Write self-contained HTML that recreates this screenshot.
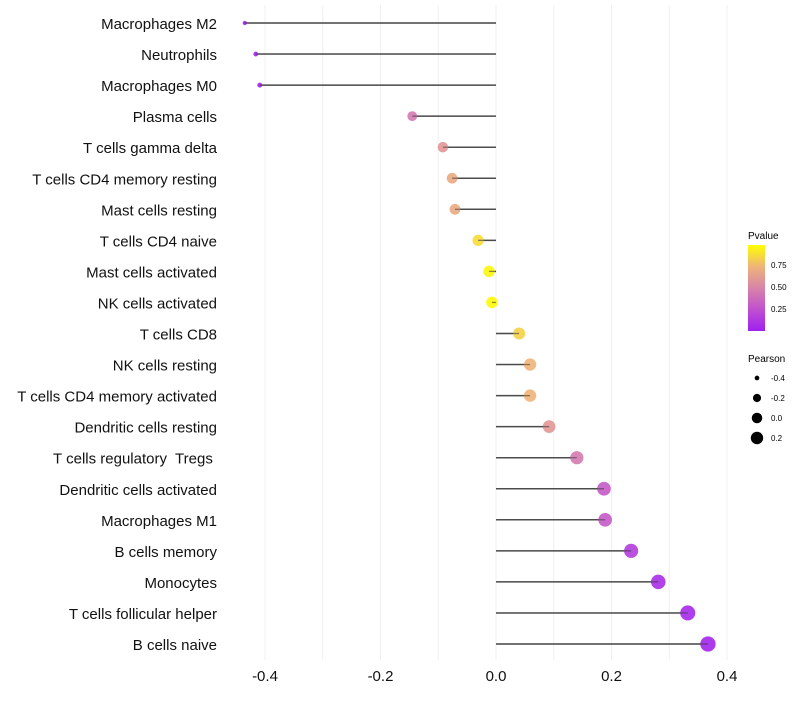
<!DOCTYPE html>
<html><head><meta charset="utf-8"><style>
body{margin:0;background:#fff;font-family:"Liberation Sans",sans-serif}
text{white-space:pre}
</style></head><body>
<svg id="chart" width="800" height="700" xmlns="http://www.w3.org/2000/svg" font-family="Liberation Sans, sans-serif">
<defs><linearGradient id="pg" x1="0" y1="1" x2="0" y2="0">
<stop offset="0" stop-color="#a020f0"/><stop offset="0.25" stop-color="#c050d0"/><stop offset="0.5" stop-color="#d884a8"/><stop offset="0.75" stop-color="#eeb478"/><stop offset="1" stop-color="#ffff00"/></linearGradient></defs>
<g id="grid"></g>
<g id="marks"></g>
<g id="ylabels"></g>
<g id="xlabels"></g>
<g>
<text x="748" y="239" font-size="10">Pvalue</text>
<rect x="748" y="245" width="17" height="86" fill="url(#pg)"/>
<text x="771" y="268" font-size="8">0.75</text>
<text x="771" y="290" font-size="8">0.50</text>
<text x="771" y="312" font-size="8">0.25</text>
</g>
<g id="sizeleg">
<text x="748" y="362" font-size="10">Pearson</text>
</g>
</svg>
<script>
const categories=["Macrophages M2","Neutrophils","Macrophages M0","Plasma cells","T cells gamma delta","T cells CD4 memory resting","Mast cells resting","T cells CD4 naive","Mast cells activated","NK cells activated","T cells CD8","NK cells resting","T cells CD4 memory activated","Dendritic cells resting","T cells regulatory  Tregs ","Dendritic cells activated","Macrophages M1","B cells memory","Monocytes","T cells follicular helper","B cells naive"];
const pearson=[-0.435,-0.416,-0.409,-0.145,-0.092,-0.076,-0.071,-0.031,-0.012,-0.007,0.040,0.059,0.059,0.092,0.140,0.187,0.189,0.234,0.281,0.332,0.367];
const pvalue=[0.0,0.01,0.02,0.45,0.6,0.7,0.7,0.88,0.97,0.98,0.85,0.75,0.75,0.6,0.45,0.3,0.3,0.15,0.08,0.05,0.03];
const xTicks=[-0.4,-0.2,0.0,0.2,0.4];
const sizeLegend=[-0.4,-0.2,0.0,0.2];
const NS="http://www.w3.org/2000/svg";
const X=v=>496+v*577.5;
const Y=i=>23+i*31.05;
const R=v=>Math.sqrt(Math.max(1,34+68*v));
const stops=[[0,[160,32,240]],[0.25,[192,80,208]],[0.5,[216,132,168]],[0.75,[238,180,120]],[1,[255,255,0]]];
function col(p){for(let k=1;k<stops.length;k++){if(p<=stops[k][0]){const a=stops[k-1],b=stops[k],t=(p-a[0])/(b[0]-a[0]);return "rgb("+a[1].map((c,j)=>Math.round(c+(b[1][j]-c)*t)).join(",")+")";}}return "rgb(255,255,0)";}
function mk(tag,at,parent){const e=document.createElementNS(NS,tag);for(const k in at)e.setAttribute(k,at[k]);document.getElementById(parent).appendChild(e);return e;}
for(let g=-0.4;g<=0.401;g+=0.1){const l=mk("line",{x1:X(g),x2:X(g),y1:5,y2:660,stroke:"#f0f0f0","stroke-width":1},"grid");

}
xTicks.forEach(t=>{const e=mk("text",{x:X(t),y:681,"font-size":15,"text-anchor":"middle",fill:"#111"},"xlabels");e.textContent=t.toFixed(1);

});
categories.forEach((c,i)=>{
const t=mk("text",{x:217,y:Y(i)+6,"font-size":15,"text-anchor":"end",fill:"#111"},"ylabels");t.textContent=c;


const s=mk("line",{x1:X(0),x2:X(pearson[i]),y1:Y(i),y2:Y(i),stroke:"#555","stroke-width":1.5},"marks");


const d=mk("circle",{cx:X(pearson[i]),cy:Y(i),r:R(pearson[i]),fill:col(pvalue[i]),"fill-opacity":0.9},"marks");


const s2=mk("line",{x1:X(0),x2:X(pearson[i]),y1:Y(i),y2:Y(i),stroke:"#444","stroke-width":1.2,"stroke-opacity":0.6},"marks");


});
sizeLegend.forEach((v,k)=>{const y=378+k*20;
const c=mk("circle",{cx:757,cy:y,r:R(v)*0.9,fill:"#000"},"sizeleg");


const t=mk("text",{x:771,y:y+3,"font-size":8},"sizeleg");t.textContent=v.toFixed(1);

});
</script>
</body></html>
